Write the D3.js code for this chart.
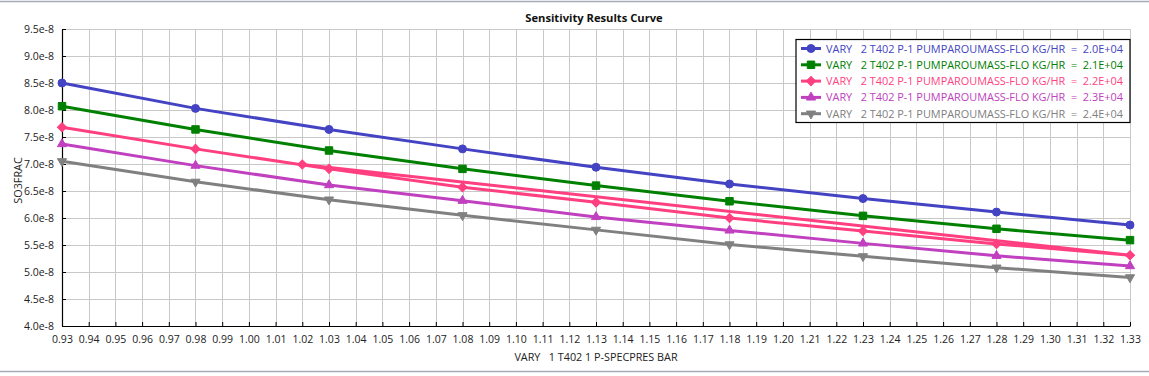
<!DOCTYPE html>
<html>
<head>
<meta charset="utf-8">
<script src="https://cdn.jsdelivr.net/npm/d3@7"></script>
<style>
  html, body { margin: 0; padding: 0; background: #ffffff; }
  svg { display: block; }
  text { font-family: "Segoe UI", "Open Sans", "Noto Sans", sans-serif; }
</style>
</head>
<body>
<svg id="chart" width="1149" height="376"></svg>
<script>
// ---- data ----
const chartTitle = "Sensitivity Results Curve";
const xTitle = "VARY   1 T402 1 P-SPECPRES BAR";
const yTitle = "SO3FRAC";

const xValues = [0.93, 0.98, 1.03, 1.08, 1.13, 1.18, 1.23, 1.28, 1.33];
const xValuesPink = [0.93, 0.98, 1.03, 1.08, 1.13, 1.18, 1.23, 1.28, 1.33, 1.02];

const flow20 = [8.50e-8, 8.03e-8, 7.64e-8, 7.28e-8, 6.94e-8, 6.63e-8, 6.36e-8, 6.11e-8, 5.87e-8];
const flow21 = [8.07e-8, 7.64e-8, 7.25e-8, 6.91e-8, 6.60e-8, 6.31e-8, 6.04e-8, 5.80e-8, 5.59e-8];
const flow22 = [7.68e-8, 7.28e-8, 6.91e-8, 6.57e-8, 6.29e-8, 6.00e-8, 5.76e-8, 5.52e-8, 5.31e-8, 6.99e-8];
const flow23 = [7.37e-8, 6.97e-8, 6.61e-8, 6.32e-8, 6.02e-8, 5.77e-8, 5.53e-8, 5.30e-8, 5.11e-8];
const flow24 = [7.05e-8, 6.67e-8, 6.34e-8, 6.05e-8, 5.78e-8, 5.51e-8, 5.29e-8, 5.08e-8, 4.90e-8];

const seriesLabels = [
  "VARY   2 T402 P-1 PUMPAROUMASS-FLO KG/HR  =  2.0E+04",
  "VARY   2 T402 P-1 PUMPAROUMASS-FLO KG/HR  =  2.1E+04",
  "VARY   2 T402 P-1 PUMPAROUMASS-FLO KG/HR  =  2.2E+04",
  "VARY   2 T402 P-1 PUMPAROUMASS-FLO KG/HR  =  2.3E+04",
  "VARY   2 T402 P-1 PUMPAROUMASS-FLO KG/HR  =  2.4E+04"
];
const seriesColors = ["#4343c3", "#008000", "#ff3f7f", "#c040c0", "#808080"];

const xTicks = [0.93,0.94,0.95,0.96,0.97,0.98,0.99,1.00,1.01,1.02,1.03,1.04,1.05,1.06,1.07,1.08,1.09,1.10,1.11,1.12,1.13,
                1.14,1.15,1.16,1.17,1.18,1.19,1.20,1.21,1.22,1.23,1.24,1.25,1.26,1.27,1.28,1.29,1.30,1.31,1.32,1.33];
const yTicks = [4.0e-8, 4.5e-8, 5.0e-8, 5.5e-8, 6.0e-8, 6.5e-8, 7.0e-8, 7.5e-8, 8.0e-8, 8.5e-8, 9.0e-8, 9.5e-8];
const yTickLabels = ["4.0e-8","4.5e-8","5.0e-8","5.5e-8","6.0e-8","6.5e-8","7.0e-8","7.5e-8","8.0e-8","8.5e-8","9.0e-8","9.5e-8"];

const series = [
  { xs: xValues, ys: flow20, shape: "circle" },
  { xs: xValues, ys: flow21, shape: "square" },
  { xs: xValuesPink, ys: flow22, shape: "diamond" },
  { xs: xValues, ys: flow23, shape: "triUp" },
  { xs: xValues, ys: flow24, shape: "triDown" }
];

// ---- layout ----
const W = 1149, H = 376;
const plot = { left: 62, right: 1130, top: 29, bottom: 326 };
const svg = d3.select("#chart");

// window frame lines
svg.append("line").attr("x1", 0).attr("x2", W).attr("y1", 1.5).attr("y2", 1.5)
   .attr("stroke", "#a3acb8").attr("stroke-width", 1.5);
svg.append("line").attr("x1", 0).attr("x2", W).attr("y1", 371.5).attr("y2", 371.5)
   .attr("stroke", "#a3acb8").attr("stroke-width", 1.5);

const x = d3.scaleLinear().domain([0.93, 1.33]).range([plot.left, plot.right]);
const y = d3.scaleLinear().domain([4.0e-8, 9.5e-8]).range([plot.bottom, plot.top]);

// grid
const grid = svg.append("g").attr("shape-rendering", "crispEdges");
grid.selectAll(".vg").data(xTicks).join("line")
  .attr("x1", d => Math.round(x(d)) + 0.5).attr("x2", d => Math.round(x(d)) + 0.5)
  .attr("y1", plot.top).attr("y2", plot.bottom)
  .attr("stroke", "#c8c8c8").attr("stroke-width", 1);
grid.selectAll(".hg").data(yTicks).join("line")
  .attr("x1", plot.left).attr("x2", plot.right)
  .attr("y1", d => Math.round(y(d)) + 0.5).attr("y2", d => Math.round(y(d)) + 0.5)
  .attr("stroke", "#c8c8c8").attr("stroke-width", 1);

// axes
const xAxis = d3.axisBottom(x).tickValues(xTicks).tickFormat(d3.format(".2f")).tickSizeInner(-4).tickSizeOuter(0).tickPadding(10);
const gx = svg.append("g").attr("transform", `translate(0,${plot.bottom})`).call(xAxis);
const yAxis = d3.axisLeft(y).tickValues(yTicks).tickFormat((d, i) => yTickLabels[i]).tickSizeInner(-4).tickSizeOuter(0).tickPadding(8);
const gy = svg.append("g").attr("transform", `translate(${plot.left},0)`).call(yAxis);
[gx, gy].forEach(g => {
  g.select(".domain").attr("stroke", "#000").attr("stroke-width", 1.2);
  g.selectAll(".tick line").attr("stroke", "#000");
  g.selectAll(".tick text").attr("fill", "#222").attr("font-size", 10.5)
    .attr("font-family", '"Segoe UI", "Open Sans", "Noto Sans", sans-serif');
});
gy.selectAll(".tick text").attr("dy", "0.35em");

// titles
svg.append("text").attr("x", 594).attr("y", 22).attr("text-anchor", "middle")
  .attr("font-size", 11.2).attr("font-weight", "bold").attr("fill", "#111").text(chartTitle);
svg.append("text").attr("x", (plot.left + plot.right) / 2).attr("y", 361).attr("text-anchor", "middle")
  .attr("font-size", 10.8).attr("fill", "#222").attr("xml:space", "preserve").style("white-space", "pre").text(xTitle);
svg.append("text").attr("transform", `translate(22,${(plot.top + plot.bottom) / 2 + 3}) rotate(-90)`)
  .attr("text-anchor", "middle").attr("font-size", 10.8).attr("fill", "#222").text(yTitle);

// markers
const symbols = {
  circle: d3.symbol().type(d3.symbolCircle).size(50),
  square: d3.symbol().type(d3.symbolSquare).size(56),
  diamond: d3.symbol().type(d3.symbolSquare).size(42),
  triUp: d3.symbol().type(d3.symbolTriangle).size(36),
  triDown: d3.symbol().type(d3.symbolTriangle).size(36)
};
function drawMarker(g, shape, cx, cy, color) {
  const rot = shape === "triDown" ? 180 : (shape === "diamond" ? 45 : 0);
  g.append("path").attr("d", symbols[shape]())
    .attr("transform", `translate(${cx},${cy}) rotate(${rot})`)
    .attr("fill", color).attr("stroke", color).attr("stroke-width", 1);
}

const line = d3.line().x(d => x(d[0])).y(d => y(d[1]));
const linesG = svg.append("g");
series.forEach((s, i) => {
  const pts = s.xs.map((xv, j) => [xv, s.ys[j]]);
  linesG.append("path").datum(pts).attr("d", line)
    .attr("fill", "none").attr("stroke", seriesColors[i]).attr("stroke-width", 3)
    .attr("stroke-linejoin", "round");
  pts.forEach(p => drawMarker(linesG, s.shape, x(p[0]), y(p[1]), seriesColors[i]));
});

// legend
const lg = svg.append("g");
lg.append("rect").attr("x", 796).attr("y", 39.5).attr("width", 334).attr("height", 83)
  .attr("fill", "#fff").attr("stroke", "#000").attr("stroke-width", 1.2);
seriesLabels.forEach((lab, i) => {
  const cy = 48.5 + i * 16.3;
  lg.append("line").attr("x1", 801).attr("x2", 821).attr("y1", cy).attr("y2", cy)
    .attr("stroke", seriesColors[i]).attr("stroke-width", 3);
  drawMarker(lg, series[i].shape, 811, cy, seriesColors[i]);
  lg.append("text").attr("x", 826).attr("y", cy + 4).attr("font-size", 10.9)
    .attr("fill", seriesColors[i]).attr("xml:space", "preserve").style("white-space", "pre").text(lab);
});
</script>
</body>
</html>
